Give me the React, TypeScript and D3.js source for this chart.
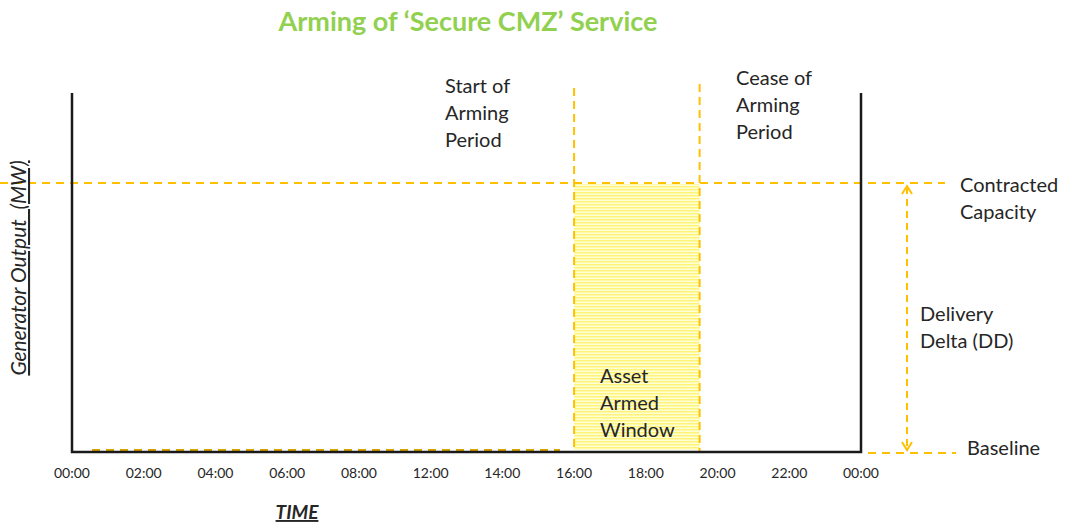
import React from "react";
import * as d3 from "d3";

// tick labels along the time axis (schematic, evenly spaced)
const timeLabels = ["00:00", "02:00", "04:00", "06:00", "08:00", "12:00", "14:00", "16:00", "18:00", "20:00", "22:00", "00:00"];
// arming window, in tick-index positions
const armStart = 7;
const armEnd = 8.75;
// output levels (relative)
const baseline = 0;
const contracted = 1;
const yMax = 1.335;

const W = 1067;
const H = 524;
const ORANGE = "#ffc000";
const TXT = "#262626";
const FONT = "Lato, 'Open Sans', sans-serif";

export default function App() {
  const x = d3.scaleLinear().domain([0, timeLabels.length - 1]).range([72, 861]);
  const y = d3.scaleLinear().domain([baseline, yMax]).range([452, 93]);

  const x0 = x(0);
  const x1 = x(timeLabels.length - 1);
  const yBase = y(baseline);
  const yCap = y(contracted);
  const xa = x(armStart);
  const xb = x(armEnd);
  const arrowX = 907;

  const lines = (tx: number, ty: number, rows: string[], lh = 27) => (
    <text x={tx} y={ty} fontFamily={FONT} fontSize={20} fill={TXT}>
      {rows.map((r, i) => (
        <tspan key={i} x={tx} dy={i === 0 ? 0 : lh}>
          {r}
        </tspan>
      ))}
    </text>
  );

  return (
    <div style={{ position: "absolute", left: 0, top: 0 }}>
      <svg width={W} height={H} style={{ display: "block", background: "#fff" }}>
        <defs>
          <pattern id="hatch" width={4} height={3} patternUnits="userSpaceOnUse">
            <rect width={4} height={3} fill="#ffffd6" />
            <rect width={4} height={1.5} fill="#fff37a" />
          </pattern>
        </defs>

        {/* title */}
        <text x={468} y={31} textAnchor="middle" fontFamily={FONT} fontWeight="bold" fontSize={27} fill="#92d050">
          Arming of ‘Secure CMZ’ Service
        </text>

        {/* armed window */}
        <rect x={xa} y={yCap + 1} width={xb - xa} height={yBase - yCap - 3} fill="url(#hatch)" />

        {/* contracted capacity line */}
        <line x1={0} x2={945} y1={yCap} y2={yCap} stroke={ORANGE} strokeWidth={2} strokeDasharray="8,6" />
        {/* baseline */}
        <line x1={92} x2={560} y1={yBase - 2} y2={yBase - 2} stroke="#d9a400" strokeWidth={2} strokeDasharray="8,6" />
        <line x1={868} x2={956} y1={yBase + 1} y2={yBase + 1} stroke={ORANGE} strokeWidth={2} strokeDasharray="8,6" />

        {/* arming period markers */}
        <line x1={xa} x2={xa} y1={88} y2={yBase} stroke={ORANGE} strokeWidth={2} strokeDasharray="8,5" />
        <line x1={xb} x2={xb} y1={84} y2={yBase} stroke={ORANGE} strokeWidth={2} strokeDasharray="8,5" />

        {/* axes frame */}
        <path
          d={`M${x0},${y(yMax)}V${yBase}H${x1}V${y(yMax)}`}
          fill="none"
          stroke="#1a1a1a"
          strokeWidth={2.5}
        />

        {/* delivery delta arrow */}
        <line x1={arrowX} x2={arrowX} y1={yCap + 4} y2={yBase - 2} stroke={ORANGE} strokeWidth={2} strokeDasharray="7,5" />
        <path d={`M${arrowX - 5},${yCap + 11}L${arrowX},${yCap + 3}L${arrowX + 5},${yCap + 11}`} fill="none" stroke={ORANGE} strokeWidth={2} />
        <path d={`M${arrowX - 5},${yBase - 10}L${arrowX},${yBase - 2}L${arrowX + 5},${yBase - 10}`} fill="none" stroke={ORANGE} strokeWidth={2} />

        {/* tick labels */}
        {timeLabels.map((t, i) => (
          <text key={i} x={x(i)} y={478} textAnchor="middle" fontFamily={FONT} fontSize={14} fill={TXT}>
            {t}
          </text>
        ))}

        {/* annotations */}
        {lines(445, 93, ["Start of", "Arming", "Period"])}
        {lines(736, 85, ["Cease of", "Arming", "Period"])}
        {lines(600, 383, ["Asset", "Armed", "Window"])}
        {lines(960, 192, ["Contracted", "Capacity"])}
        {lines(920, 321, ["Delivery", "Delta (DD)"])}
        {lines(967, 455, ["Baseline"])}

        {/* axis titles */}
        <text
          transform="translate(26,268) rotate(-90)"
          textAnchor="middle"
          fontFamily={FONT}
          fontStyle="italic"
          fontSize={21}
          fill={TXT}
          textDecoration="underline"
          style={{ whiteSpace: "pre" }}
        >
          {"Generator Output  (MW)"}
        </text>
        <text
          x={297}
          y={519}
          textAnchor="middle"
          fontFamily={FONT}
          fontStyle="italic"
          fontWeight="bold"
          fontSize={19}
          fill={TXT}
          textDecoration="underline"
        >
          TIME
        </text>
      </svg>
    </div>
  );
}
